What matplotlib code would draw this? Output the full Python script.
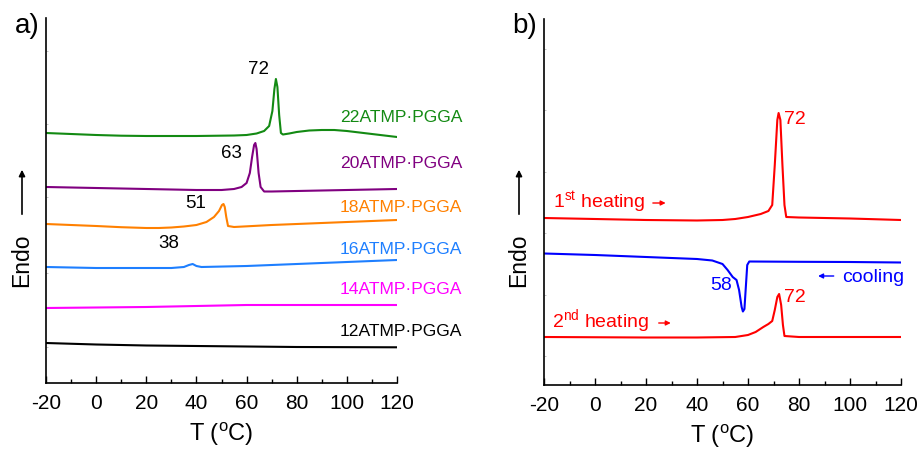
import numpy as np
import matplotlib
matplotlib.use("Agg")
import matplotlib.pyplot as plt
from matplotlib.ticker import MultipleLocator, FixedLocator

plt.rcParams['font.family'] = ['Liberation Sans', 'DejaVu Sans']
plt.rcParams['mathtext.fontset'] = 'custom'
plt.rcParams['mathtext.rm'] = 'Liberation Sans'
plt.rcParams['mathtext.it'] = 'Liberation Sans:italic'
plt.rcParams['axes.unicode_minus'] = False

# ---- panel a) : DSC heating curves, heat flow in arbitrary (offset) units ----
T22 = [-20, 0, 10, 20, 40, 55, 60, 64, 67, 69, 70.3, 71.1, 71.7, 72.3, 73, 73.7, 74.5, 77, 80, 85, 90, 95, 100, 110, 120]
y22 = [250, 248, 247.3, 247, 247, 247.5, 248, 249.5, 252, 257, 272, 294, 304, 296, 268, 250, 248.5, 249.5, 251, 252.5, 253, 253, 252, 249, 246]
T20 = [-20, 0, 20, 40, 50, 55, 58, 60, 61.3, 62.2, 63, 63.5, 64, 64.8, 65.6, 67, 70, 80, 100, 120]
y20 = [196, 195, 194, 193, 193, 194, 196, 200, 210, 226, 238, 240, 234, 210, 196, 191.5, 191.5, 192, 193, 194]
T18 = [-20, -10, 0, 10, 20, 25, 30, 35, 40, 44, 47, 49, 50.2, 50.8, 51.3, 51.9, 52.6, 55, 70, 90, 120]
y18 = [159, 158, 157, 155.8, 155, 155, 155.5, 156.5, 158, 161, 166, 172, 178, 179, 176, 166, 157, 156, 158, 160, 163]
T16 = [-20, 0, 20, 30, 35, 37, 38.5, 40, 42, 60, 80, 100, 120]
y16 = [116, 115, 115, 115, 116, 118, 119, 117, 116, 117, 119, 121, 123]
T14 = [-20, 0, 20, 40, 60, 80, 100, 120]
y14 = [75, 75.5, 76, 77, 78, 78, 78, 78]
T12 = [-20, 0, 20, 40, 60, 80, 120]
y12 = [40, 38.5, 37.5, 37, 36.5, 36, 35.7]

names = ["22ATMP·PGGA", "20ATMP·PGGA", "18ATMP·PGGA", "16ATMP·PGGA", "14ATMP·PGGA", "12ATMP·PGGA"]
colors = ["#138a13", "#800080", "#ff8000", "#1e7fff", "#ff00ff", "#000000"]
label_y = [265, 220, 176, 134, 94, 51]
peaks = ["72", "63", "51", "38"]
peak_pos = [(64.6, 314), (53.8, 229), (39.8, 179), (29.1, 139)]
yminor_a = [36, 110, 186, 259, 332]

# ---- panel b) : 22ATMP·PGGA heating / cooling / heating ----
Th1 = [-20, 0, 20, 40, 50, 55, 60, 65, 68, 69.5, 70.5, 71.5, 72, 72.7, 73.5, 74.3, 75, 80, 100, 120]
yh1 = [167, 166, 165, 164.5, 165, 166, 168, 171, 174, 180, 220, 265, 272, 265, 220, 180, 168, 167.5, 166.5, 165]
Tc = [-20, 0, 20, 40, 46, 50, 52, 54, 55.5, 56.5, 57.5, 58, 58.6, 59.2, 59.7, 60.5, 80, 100, 120]
yc = [131.5, 130, 128, 126, 124.5, 121, 115, 108, 105, 95, 78, 73.5, 76, 100, 120, 123.5, 123.2, 123, 122.5]
Th2 = [-20, 20, 40, 55, 60, 63, 66, 68, 69.5, 70.5, 71.5, 72.2, 73, 73.7, 74.3, 80, 120]
yh2 = [48, 47.5, 47.5, 48, 50, 53, 58, 61, 64, 75, 88, 91, 80, 60, 49, 48, 48]
yminor_b = [29, 90, 152, 213, 275, 336]

fig = plt.figure(figsize=(9.19, 4.5), dpi=100)
W, H = 919, 450
axa = fig.add_axes([46 / W, 1 - 383 / H, (397 - 46) / W, (383 - 18) / H])
axb = fig.add_axes([544 / W, 1 - 385 / H, (901 - 544) / W, (385 - 19) / H])

series = [(T22, y22), (T20, y20), (T18, y18), (T16, y16), (T14, y14), (T12, y12)]
for (t, y), c, n, ly in zip(series, colors, names, label_y):
    axa.plot(t, y, color=c, lw=1.5)
    axa.text(146, ly, n, color=c, fontsize=12.6, ha='right', va='center', clip_on=False)
for p, (px, py) in zip(peaks, peak_pos):
    axa.text(px, py, p, fontsize=13.5, ha='center', va='center')
axa.set_ylim(0, 365)

red = "#ff0000"
blue = "#0000ff"
axb.plot(Th1, yh1, color=red, lw=1.5)
axb.plot(Tc, yc, color=blue, lw=1.5)
axb.plot(Th2, yh2, color=red, lw=1.5)
axb.set_ylim(0, 366)
fs = 14
axb.text(74.3, 265, "72", color=red, fontsize=fs, ha='left', va='center')
axb.text(74.3, 88, "72", color=red, fontsize=fs, ha='left', va='center')
axb.text(53.8, 100, "58", color=blue, fontsize=fs, ha='right', va='center')
axb.text(-16.5, 183, r"1$^{\mathrm{st}}$ heating", color=red, fontsize=fs, ha='left', va='center')
axb.text(-16.7, 64, r"2$^{\mathrm{nd}}$ heating", color=red, fontsize=fs, ha='left', va='center')
axb.text(97.0, 108, "cooling", color=blue, fontsize=fs, ha='left', va='center')
arr = dict(arrowstyle='-|>', lw=1, mutation_scale=7)
axb.annotate("", xy=(28.8, 182), xytext=(21.6, 182), arrowprops=dict(color=red, **arr))
axb.annotate("", xy=(30.8, 62), xytext=(23.9, 62), arrowprops=dict(color=red, **arr))
axb.annotate("", xy=(86.4, 109), xytext=(94.7, 109), arrowprops=dict(color=blue, **arr))

for ax, lab, lx, ym in [(axa, "a)", 27, yminor_a), (axb, "b)", 525, yminor_b)]:
    ax.set_xlim(-20, 120)
    ax.xaxis.set_major_locator(MultipleLocator(20))
    ax.xaxis.set_minor_locator(MultipleLocator(10))
    ax.set_yticks([])
    ax.yaxis.set_minor_locator(FixedLocator(ym))
    ax.tick_params(axis='x', which='major', direction='in', length=5, width=1, labelsize=15, pad=8)
    ax.tick_params(axis='x', which='minor', direction='in', length=3, width=1)
    ax.tick_params(axis='y', which='minor', direction='in', length=1.5, width=0.5, color='#aaaaaa')
    ax.spines['top'].set_visible(False)
    ax.spines['right'].set_visible(False)
    ax.spines['left'].set_linewidth(1.2)
    ax.spines['bottom'].set_linewidth(1.2)
    ax.set_xlabel(r"T ($^{\mathrm{o}}$C)", fontsize=17, labelpad=5.5)
    fig.text(lx / W, 1 - 26 / H, lab, fontsize=20, ha='center', va='center')

for ex in [22, 519]:
    fig.text(ex / W, 1 - 260 / H, "Endo", fontsize=16.5, rotation=90, ha='center', va='center')
    fig.add_artist(matplotlib.patches.FancyArrowPatch(
        (ex / W, 1 - 217 / H), (ex / W, 1 - 167 / H), transform=fig.transFigure,
        arrowstyle='-|>', mutation_scale=9, lw=1.2, color='black'))

fig.savefig("out.png", dpi=100)
